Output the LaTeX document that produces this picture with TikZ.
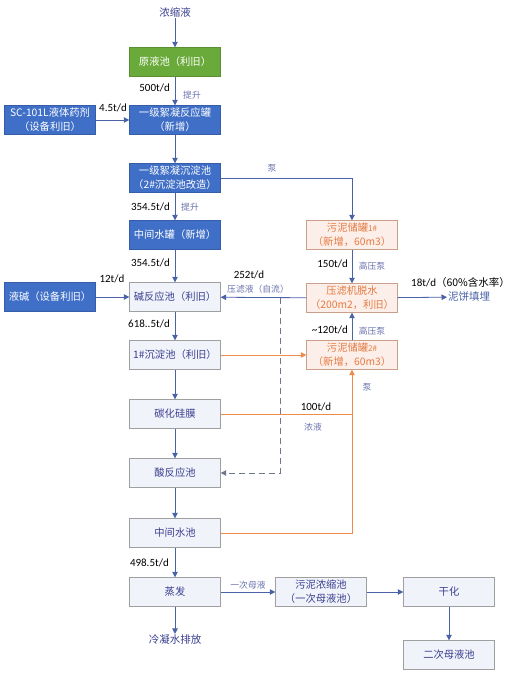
\documentclass[tikz,border=0pt]{standalone}
\usepackage{fontspec}
\setmainfont{Noto Sans CJK SC}
\newfontfamily\numfont{Carlito}
\usetikzlibrary{arrows.meta}
\definecolor{boxblue}{HTML}{3F6FC6}
\definecolor{boxgreen}{HTML}{6AAA3A}
\definecolor{lineblue}{HTML}{4A62A8}
\definecolor{textblue}{HTML}{3A3F8F}
\definecolor{noteblue}{HTML}{6B74B0}
\definecolor{lightfill}{HTML}{F1F3FA}
\definecolor{orangeline}{HTML}{EE8A4A}
\definecolor{orangetext}{HTML}{E57A40}
\definecolor{pinkfill}{HTML}{FCEFEA}
\definecolor{pinkborder}{HTML}{C9A08A}
\tikzset{
  box/.style={minimum width=91pt, minimum height=29pt, inner sep=1pt, align=center,
    font=\fontsize{10.3}{13.8}\selectfont},
  bluebox/.style={box, fill=boxblue, draw=boxblue!85!black, text=white},
  greenbox/.style={box, fill=boxgreen, draw=boxgreen!85!black, text=white},
  plainbox/.style={box, fill=lightfill, draw=gray!75, text=textblue},
  sludgebox/.style={box, fill=pinkfill, draw=pinkborder, text=orangetext},
  flow/.style={draw=lineblue, line width=0.8pt, -{Triangle[length=5.5pt,width=5.5pt]}},
  orangeflow/.style={draw=orangeline, line width=0.8pt, -{Triangle[length=5.5pt,width=5.5pt]}},
  dashflow/.style={draw=gray!70!lineblue, line width=0.9pt, dash pattern=on 6pt off 4pt,
    -{Triangle[length=5.5pt,width=5.5pt]}},
  rate/.style={font=\numfont\fontsize{11}{12}\selectfont, text=black, inner sep=1pt},
  note/.style={font=\fontsize{8.8}{10}\selectfont, text=noteblue, inner sep=1pt},
  term/.style={font=\fontsize{10.5}{12}\selectfont, text=textblue, inner sep=1pt}
}
\begin{document}
\begin{tikzpicture}[x=1pt, y=-1pt]
\useasboundingbox[fill=white] (0,0) rectangle (511,674);

\node[term] (src) at (175,12) {浓缩液};
\node[greenbox] (raw) at (175,62) {原液池（利旧）};
\node[bluebox] (floc) at (175,120) {一级絮凝反应罐\\（新增）};
\node[bluebox] (dose) at (50,120) {SC-101L液体药剂\\（设备利旧）};
\node[bluebox] (settle) at (175,178) {一级絮凝沉淀池\\（2\#沉淀池改造）};
\node[bluebox] (midtank) at (175,235) {中间水罐（新增）};
\node[bluebox] (lye) at (50,297) {液碱（设备利旧）};
\node[plainbox] (alkali) at (175,297) {碱反应池（利旧）};
\node[plainbox] (sed1) at (175,355) {1\#沉淀池（利旧）};
\node[plainbox] (sic) at (175,414) {碳化硅膜};
\node[plainbox] (acid) at (175,473) {酸反应池};
\node[plainbox] (midpool) at (175,533) {中间水池};
\node[plainbox] (evap) at (175,592) {蒸发};
\node[term] (cond) at (175,640) {冷凝水排放};
\node[plainbox] (thick) at (321,592) {污泥浓缩池\\（一次母液池）};
\node[plainbox] (dry) at (449,592) {干化};
\node[plainbox] (mother2) at (449,655) {二次母液池};
\node[sludgebox] (tank1) at (352,235) {污泥储罐{\footnotesize 1\#}\\（新增，60m3）};
\node[sludgebox] (press) at (352,298) {压滤机脱水\\（200m2，利旧）};
\node[sludgebox] (tank2) at (352,355) {污泥储罐{\footnotesize 2\#}\\（新增，60m3）};
\node[term, text=lineblue, anchor=west] (cake) at (447,297) {泥饼填埋};
\coordinate (split) at (280,298);
\coordinate (join) at (352,414);

\draw[flow] (src) -- (raw);
\foreach \a/\b in {raw/floc, floc/settle, settle/midtank, midtank/alkali, alkali/sed1,
  sed1/sic, sic/acid, acid/midpool, midpool/evap, evap/cond, dose/floc, lye/alkali,
  tank1/press, tank2/press, press/alkali, thick/dry, dry/mother2}
  \draw[flow] (\a) -- (\b);
\draw[flow] (settle.east) -| (tank1.north);
\draw[flow] (press) -- (cake);
\draw[flow] (evap) -- node[note, above=1pt] {一次母液} (thick);
\draw[dashflow] (split) |- (acid.east);
\draw[orangeflow] (sed1) -- (tank2);
\draw[orangeflow] (midpool.east) -| (tank2.south);
\draw[orangeline, line width=0.8pt] (sic.east) -- (join);

\node[rate, anchor=east] (r500) at (171,88) {500t/d};
\node[note] (lift1) at (192,95) {提升};
\node[rate] (r45) at (113,108) {4.5t/d};
\node[note] (pump1) at (272,168) {泵};
\node[rate, anchor=east] (r354a) at (171,207) {354.5t/d};
\node[note] (lift2) at (190,207) {提升};
\node[rate, anchor=east] (r354b) at (171,263) {354.5t/d};
\node[rate] (r12) at (112,279) {12t/d};
\node[rate, anchor=east] (r618) at (171,324) {618..5t/d};
\node[rate] (r252) at (249,275) {252t/d};
\node[note] (filt) at (258,289) {压滤液（自流）};
\node[rate, anchor=east] (r150) at (349,264) {150t/d};
\node[note] (hp1) at (372,266) {高压泵};
\node[rate, anchor=east] (r120) at (349,330) {\textasciitilde120t/d};
\node[note] (hp2) at (372,331) {高压泵};
\node[rate, anchor=west] (r18) at (410,283) {18t/d{\fontsize{10.5}{12}\selectfont\rmfamily（60\%含水率）}};
\node[note] (pump2) at (367,387) {泵};
\node[rate] (r100) at (316,407) {100t/d};
\node[note] (conc) at (313,427) {浓液};
\node[rate, anchor=east] (r498) at (170,563) {498.5t/d};
\end{tikzpicture}
\end{document}
